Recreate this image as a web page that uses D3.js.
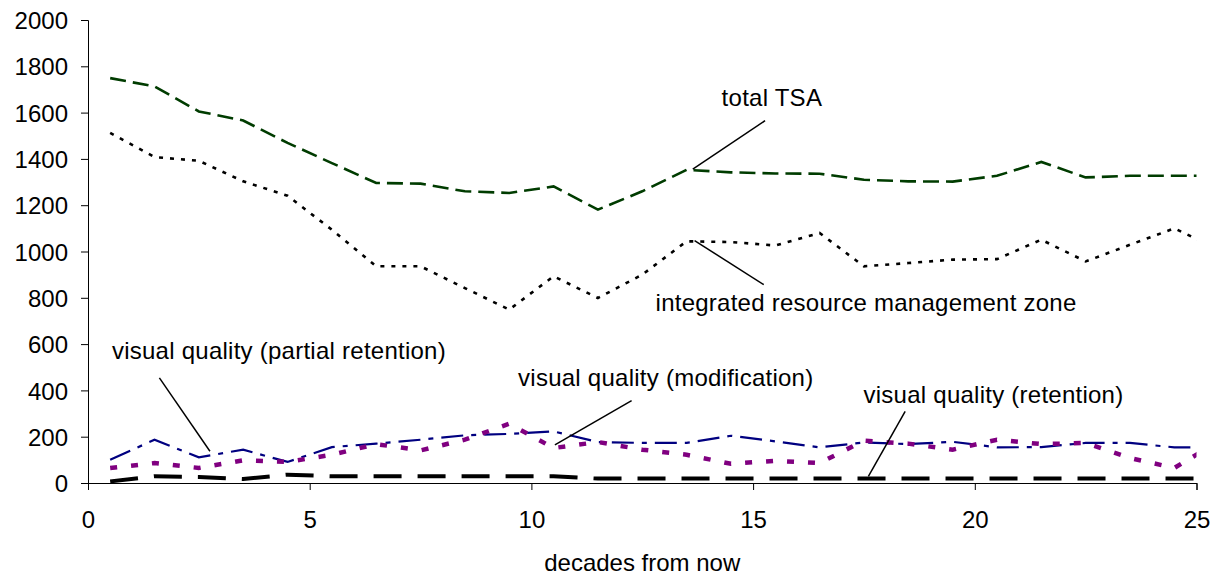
<!DOCTYPE html>
<html>
<head>
<meta charset="utf-8">
<script src="https://cdn.jsdelivr.net/npm/d3@7"></script>
<style>
  body { margin: 0; background: #fff; }
  svg text { font-family: "Liberation Sans", Arial, sans-serif; fill: #000; }
</style>
</head>
<body>
<div id="viz"></div>
<script>
// values (x = decades from now)
const decades = [0.5, 1.5, 2.5, 3.5, 4.5, 5.5, 6.5, 7.5, 8.5, 9.5, 10.5, 11.5, 12.5,
  13.5, 14.5, 15.5, 16.5, 17.5, 18.5, 19.5, 20.5, 21.5, 22.5, 23.5, 24.5, 25.5];

const totalTSA = [1749, 1713, 1605, 1566, 1469, 1382, 1296, 1293, 1260, 1253, 1281, 1181, 1260,
  1353, 1342, 1337, 1336, 1310, 1303, 1302, 1327, 1387, 1320, 1327, 1327, 1327];
const integratedZone = [1512, 1408, 1392, 1303, 1241, 1094, 936, 936, 842, 749, 893, 799, 900,
  1044, 1041, 1026, 1080, 936, 950, 965, 967, 1051, 957, 1029, 1100, 1008];
const partialRetention = [100, 187, 111, 144, 91, 155, 170, 187, 206, 212, 223, 177, 173,
  173, 204, 180, 154, 175, 168, 178, 154, 155, 173, 173, 154, 154];
const modification = [65, 86, 65, 98, 91, 122, 168, 141, 187, 256, 151, 177, 144,
  122, 83, 96, 86, 183, 170, 144, 187, 168, 173, 108, 65, 180];
const retention = [7, 29, 26, 17, 36, 29, 29, 29, 29, 29, 29, 19, 19,
  19, 19, 19, 19, 19, 19, 19, 19, 19, 19, 19, 19, 19];

const yTicks = [0, 200, 400, 600, 800, 1000, 1200, 1400, 1600, 1800, 2000];
const xTicks = [0, 5, 10, 15, 20, 25];

const series = [
  { name: "total TSA", values: totalTSA, color: "#003c00", width: 2.6, dash: "16,7" },
  { name: "integrated resource management zone", values: integratedZone, color: "#000", width: 2.6, dash: "4,7" },
  { name: "visual quality (partial retention)", values: partialRetention, color: "#000080", width: 2.2, dash: "22,8,5,8" },
  { name: "visual quality (modification)", values: modification, color: "#800080", width: 4.5, dash: "7,14" },
  { name: "visual quality (retention)", values: retention, color: "#000", width: 4, dash: "28,16" }
];

// label text start + baseline, leader line from/to, all in data units
const annotations = [
  { text: "total TSA", tx: 14.29, ty: 1630, x1: 15.27, y1: 1565, x2: 13.64, y2: 1356 },
  { text: "integrated resource management zone", tx: 12.8, ty: 741, x1: 15.24, y1: 857, x2: 13.68, y2: 1047 },
  { text: "visual quality (partial retention)", tx: 0.54, ty: 537, x1: 1.61, y1: 454, x2: 2.75, y2: 137 },
  { text: "visual quality (modification)", tx: 9.7, ty: 417, x1: 12.26, y1: 356, x2: 10.53, y2: 165 },
  { text: "visual quality (retention)", tx: 17.49, ty: 346, x1: 18.43, y1: 309, x2: 17.6, y2: 29 }
];

const margin = { top: 20, right: 20, bottom: 92, left: 88 },
  width = 1217 - margin.left - margin.right,
  height = 575 - margin.top - margin.bottom;

const svg = d3.select("#viz")
  .append("svg")
  .attr("width", 1217)
  .attr("height", 575)
  .append("g")
  .attr("transform", `translate(${margin.left},${margin.top})`);

const x = d3.scaleLinear().domain([0, 25]).range([0, width - 0.5]);
const y = d3.scaleLinear().domain([0, 2000]).range([height, 0]);

svg.append("clipPath")
  .attr("id", "plot-clip")
  .append("rect")
  .attr("x", 0)
  .attr("y", -10)
  .attr("width", x(25))
  .attr("height", height + 10);

// axes
const yAxis = svg.append("g")
  .call(d3.axisLeft(y).tickValues(yTicks).tickSize(7).tickPadding(13).tickFormat(d3.format("d")));
const xAxis = svg.append("g")
  .attr("transform", `translate(0,${height})`)
  .call(d3.axisBottom(x).tickValues(xTicks).tickSize(7).tickPadding(21));

[yAxis, xAxis].forEach(g => {
  g.select(".domain").attr("stroke", "#000");
  g.selectAll(".tick line").attr("stroke", "#000");
  g.selectAll(".tick text")
    .style("font-family", "'Liberation Sans', Arial, sans-serif")
    .style("font-size", "24px")
    .attr("fill", "#000");
});
yAxis.selectAll(".tick text").attr("dy", "0.36em");

svg.append("text")
  .attr("x", x(12.5))
  .attr("y", height + 88)
  .attr("text-anchor", "middle")
  .style("font-size", "24px")
  .text("decades from now");

// series
const line = d3.line()
  .x((d, i) => x(decades[i]))
  .y(d => y(d));

const lines = svg.append("g").attr("clip-path", "url(#plot-clip)");
series.forEach(s => {
  lines.append("path")
    .datum(s.values)
    .attr("fill", "none")
    .attr("stroke", s.color)
    .attr("stroke-width", s.width)
    .attr("stroke-dasharray", s.dash)
    .attr("d", line);
});

// labels with leader lines
const notes = svg.append("g");
annotations.forEach(a => {
  notes.append("line")
    .attr("x1", x(a.x1)).attr("y1", y(a.y1))
    .attr("x2", x(a.x2)).attr("y2", y(a.y2))
    .attr("stroke", "#000")
    .attr("stroke-width", 1.5);
  notes.append("text")
    .attr("x", x(a.tx))
    .attr("y", y(a.ty))
    .style("font-size", "24px")
    .style("letter-spacing", "0.25px")
    .text(a.text);
});
</script>
</body>
</html>
